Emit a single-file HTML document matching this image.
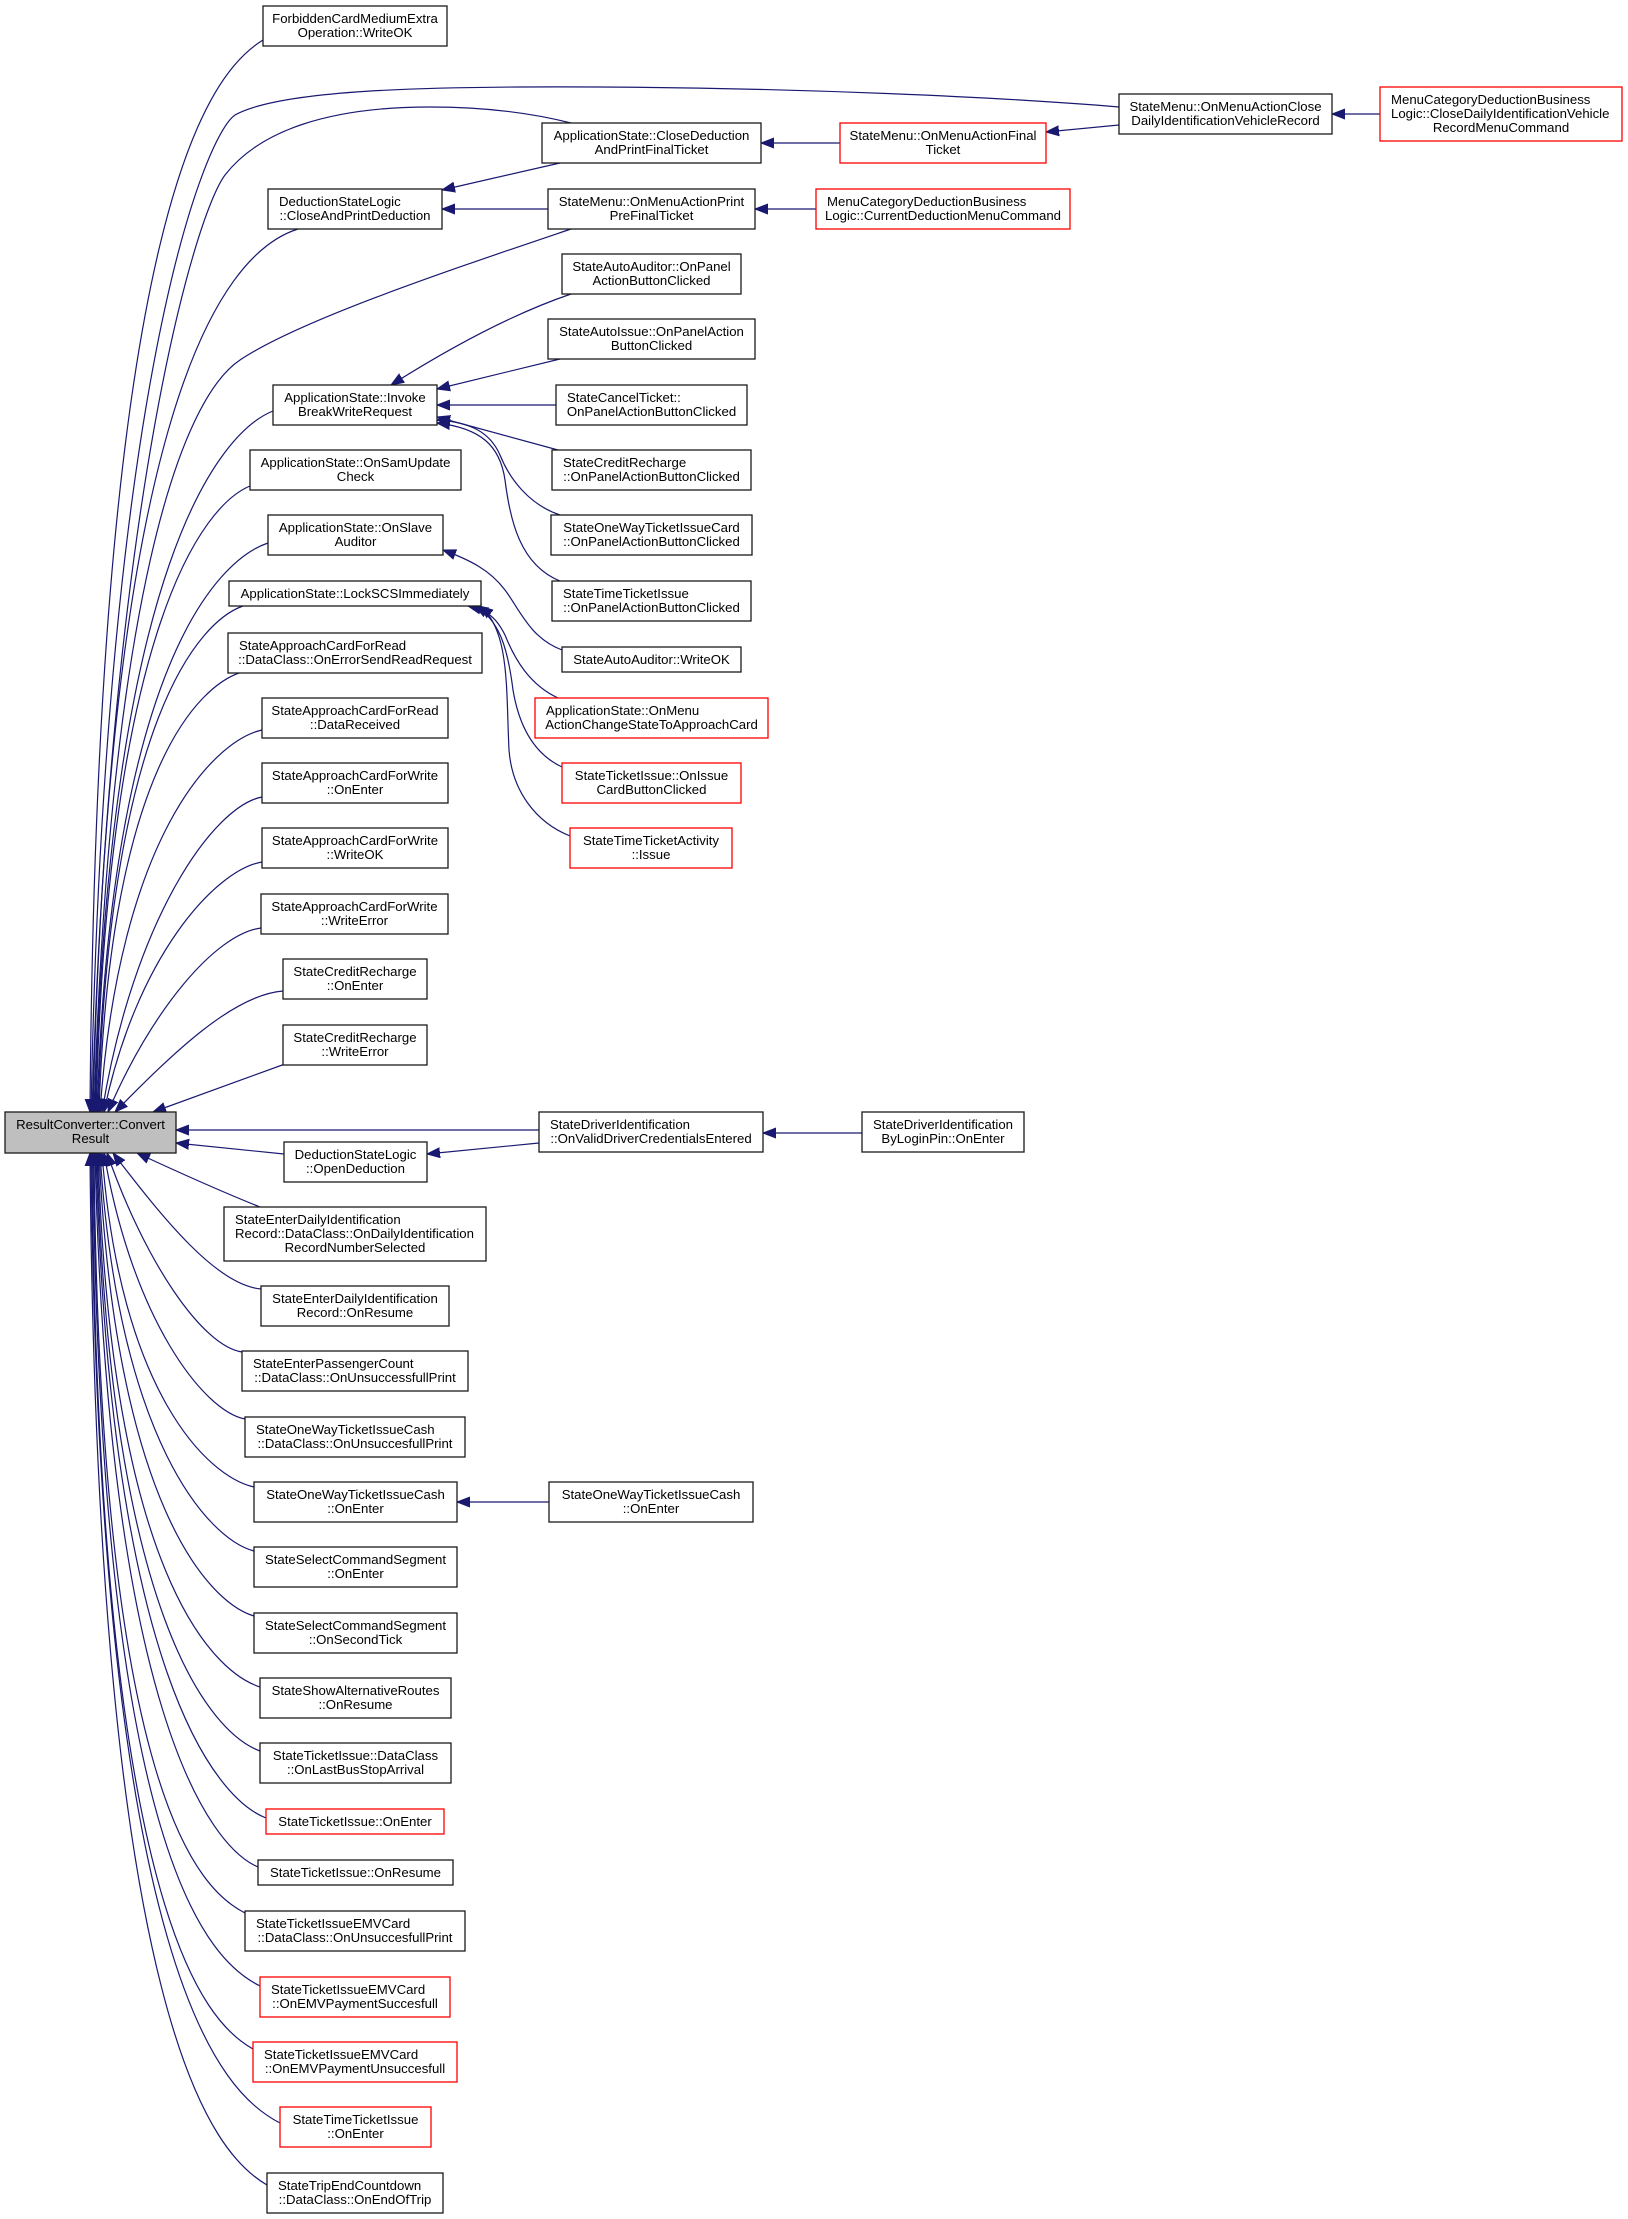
<!DOCTYPE html>
<html><head><meta charset="utf-8"><style>
html,body{margin:0;padding:0;background:#fff;}
svg{display:block;}
text{font-family:"Liberation Sans",Arial,Helvetica,sans-serif;font-size:13.2px;fill:#000;}
.b{fill:#fff;stroke:#1a1a1a;stroke-width:1.3;}
.r{fill:#fff;stroke:#ff0000;stroke-width:1.3;}
.g{fill:#bfbfbf;stroke:#1a1a1a;stroke-width:1.3;}
.e{fill:none;stroke:#191970;stroke-width:1.2;marker-end:url(#a);}
.m{text-anchor:middle;}
</style></head><body>
<svg width="1628" height="2219" viewBox="0 0 1628 2219" xmlns="http://www.w3.org/2000/svg">
<defs><marker id="a" markerUnits="userSpaceOnUse" markerWidth="14" markerHeight="12" viewBox="0 0 14 12" refX="13" refY="6" orient="auto"><path d="M0,1 L13,6 L0,11 z" fill="#191970" stroke="#191970" stroke-width="1"/></marker></defs>

<!-- edges -->
<path class="e" d="M263,40 C211,72 97,201 90,1112"/>
<path class="e" d="M1119,107 C1000,97 800,88 600,87 C420,86 280,90 235,115 C205,135 105,380 91,1112"/>
<path class="e" d="M571,123 C520,110 470,107 430,107 C330,107 260,130 225,175 C195,215 110,500 92,1112"/>
<path class="e" d="M298,229 C216,255 109,423 93,1112"/>
<path class="e" d="M571,229 C450,270 300,320 240,360 C180,400 110,600 94,1112"/>
<path class="e" d="M273,411 C220,432 109,565 95,1112"/>
<path class="e" d="M250,486 C204,505 108,624 96,1112"/>
<path class="e" d="M268,543 C217,560 111,668 97,1112"/>
<path class="e" d="M243,606 C200,621 110,717 98,1112"/>
<path class="e" d="M242,672 C199,685 110,769 99,1112"/>
<path class="e" d="M262,730 C213,741 119,837 100,1112"/>
<path class="e" d="M262,797 C214,806 134,917 102,1112"/>
<path class="e" d="M262,862 C215,870 136,957 104,1112"/>
<path class="e" d="M261,928 C215,934 151,1011 108,1112"/>
<path class="e" d="M283,991 C233,995 174,1052 115,1112"/>
<path class="e" d="M285,1064 L153,1112"/>
<path class="e" d="M539,1130 L176,1130"/>
<path class="e" d="M539,1143 L427,1154"/>
<path class="e" d="M284,1154 L176,1143"/>
<path class="e" d="M862,1133 L763,1133"/>
<path class="e" d="M549,1502 L457,1502"/>
<path class="e" d="M260,1207 C225,1193 180,1173 137,1153"/>
<path class="e" d="M261,1289 C217,1285 165,1221 113,1153"/>
<path class="e" d="M242,1352 C202,1346 145,1262 107,1153"/>
<path class="e" d="M245,1419 C203,1411 132,1318 104,1153"/>
<path class="e" d="M254,1487 C208,1477 120,1393 102,1153"/>
<path class="e" d="M254,1551 C208,1539 118,1440 100,1153"/>
<path class="e" d="M254,1616 C207,1602 115,1500 99,1153"/>
<path class="e" d="M260,1687 C211,1671 111,1570 98,1153"/>
<path class="e" d="M260,1751 C211,1733 110,1619 97,1153"/>
<path class="e" d="M266,1818 C215,1798 110,1672 96,1153"/>
<path class="e" d="M258,1867 C209,1846 108,1710 95,1153"/>
<path class="e" d="M245,1913 C200,1890 100,1799 94,1153"/>
<path class="e" d="M260,1986 C210,1961 100,1861 93,1153"/>
<path class="e" d="M253,2049 C205,2022 98,1915 92,1153"/>
<path class="e" d="M280,2123 C223,2094 99,1978 91,1153"/>
<path class="e" d="M267,2185 C214,2154 97,2030 90,1153"/>
<path class="e" d="M1380,114 L1332,114"/>
<path class="e" d="M1119,125 L1046,132"/>
<path class="e" d="M840,143 L761,143"/>
<path class="e" d="M816,209 L755,209"/>
<path class="e" d="M560,163 L442,190"/>
<path class="e" d="M548,209 L442,209"/>
<path class="e" d="M571,294 C530,308 470,335 391,385"/>
<path class="e" d="M560,359 L437,389"/>
<path class="e" d="M556,405 L437,405"/>
<path class="e" d="M558,450 L437,417"/>
<path class="e" d="M560,515 C530,505 510,480 500,455 C490,432 470,422 437,420"/>
<path class="e" d="M560,581 C520,565 510,520 505,480 C500,445 480,428 437,423"/>
<path class="e" d="M562,650 C530,638 520,610 505,590 C490,570 470,560 443,550"/>
<path class="e" d="M558,698 C530,685 515,660 505,635 C495,615 485,610 468,606"/>
<path class="e" d="M562,767 C530,752 518,720 513,690 C508,650 500,620 475,606"/>
<path class="e" d="M570,836 C535,822 512,790 509,750 C506,690 510,630 480,606"/>

<!-- result converter -->
<rect class="g" x="5" y="1112" width="171" height="41"/>
<text class="m" x="90.5" y="1129">ResultConverter::Convert</text>
<text class="m" x="90.5" y="1143">Result</text>

<!-- column B -->
<rect class="b" x="263" y="6" width="184" height="40"/>
<text class="m" x="355" y="23">ForbiddenCardMediumExtra</text>
<text class="m" x="355" y="37">Operation::WriteOK</text>

<rect class="b" x="268" y="189" width="174" height="40"/>
<text x="279" y="206">DeductionStateLogic</text>
<text class="m" x="355" y="220">::CloseAndPrintDeduction</text>

<rect class="b" x="273" y="385" width="164" height="40"/>
<text class="m" x="355" y="402">ApplicationState::Invoke</text>
<text class="m" x="355" y="416">BreakWriteRequest</text>

<rect class="b" x="250" y="450" width="211" height="40"/>
<text class="m" x="355.5" y="467">ApplicationState::OnSamUpdate</text>
<text class="m" x="355.5" y="481">Check</text>

<rect class="b" x="268" y="515" width="175" height="40"/>
<text class="m" x="355.5" y="532">ApplicationState::OnSlave</text>
<text class="m" x="355.5" y="546">Auditor</text>

<rect class="b" x="229" y="581" width="252" height="25"/>
<text class="m" x="355" y="598">ApplicationState::LockSCSImmediately</text>

<rect class="b" x="228" y="633" width="254" height="40"/>
<text x="239" y="650">StateApproachCardForRead</text>
<text class="m" x="355" y="664">::DataClass::OnErrorSendReadRequest</text>

<rect class="b" x="262" y="698" width="186" height="40"/>
<text class="m" x="355" y="715">StateApproachCardForRead</text>
<text class="m" x="355" y="729">::DataReceived</text>

<rect class="b" x="262" y="763" width="186" height="40"/>
<text class="m" x="355" y="780">StateApproachCardForWrite</text>
<text class="m" x="355" y="794">::OnEnter</text>

<rect class="b" x="262" y="828" width="186" height="40"/>
<text class="m" x="355" y="845">StateApproachCardForWrite</text>
<text class="m" x="355" y="859">::WriteOK</text>

<rect class="b" x="261" y="894" width="187" height="40"/>
<text class="m" x="354.5" y="911">StateApproachCardForWrite</text>
<text class="m" x="354.5" y="925">::WriteError</text>

<rect class="b" x="283" y="959" width="144" height="40"/>
<text class="m" x="355" y="976">StateCreditRecharge</text>
<text class="m" x="355" y="990">::OnEnter</text>

<rect class="b" x="283" y="1025" width="144" height="40"/>
<text class="m" x="355" y="1042">StateCreditRecharge</text>
<text class="m" x="355" y="1056">::WriteError</text>

<rect class="b" x="284" y="1142" width="143" height="40"/>
<text class="m" x="355.5" y="1159">DeductionStateLogic</text>
<text class="m" x="355.5" y="1173">::OpenDeduction</text>

<rect class="b" x="224" y="1207" width="262" height="54"/>
<text x="235" y="1224">StateEnterDailyIdentification</text>
<text x="235" y="1238">Record::DataClass::OnDailyIdentification</text>
<text class="m" x="355" y="1252">RecordNumberSelected</text>

<rect class="b" x="261" y="1286" width="188" height="40"/>
<text class="m" x="355" y="1303">StateEnterDailyIdentification</text>
<text class="m" x="355" y="1317">Record::OnResume</text>

<rect class="b" x="242" y="1351" width="226" height="40"/>
<text x="253" y="1368">StateEnterPassengerCount</text>
<text class="m" x="355" y="1382">::DataClass::OnUnsuccessfullPrint</text>

<rect class="b" x="245" y="1417" width="220" height="40"/>
<text x="256" y="1434">StateOneWayTicketIssueCash</text>
<text class="m" x="355" y="1448">::DataClass::OnUnsuccesfullPrint</text>

<rect class="b" x="254" y="1482" width="203" height="40"/>
<text class="m" x="355.5" y="1499">StateOneWayTicketIssueCash</text>
<text class="m" x="355.5" y="1513">::OnEnter</text>

<rect class="b" x="254" y="1547" width="203" height="40"/>
<text class="m" x="355.5" y="1564">StateSelectCommandSegment</text>
<text class="m" x="355.5" y="1578">::OnEnter</text>

<rect class="b" x="254" y="1613" width="203" height="40"/>
<text class="m" x="355.5" y="1630">StateSelectCommandSegment</text>
<text class="m" x="355.5" y="1644">::OnSecondTick</text>

<rect class="b" x="260" y="1678" width="191" height="40"/>
<text class="m" x="355.5" y="1695">StateShowAlternativeRoutes</text>
<text class="m" x="355.5" y="1709">::OnResume</text>

<rect class="b" x="260" y="1743" width="191" height="40"/>
<text class="m" x="355.5" y="1760">StateTicketIssue::DataClass</text>
<text class="m" x="355.5" y="1774">::OnLastBusStopArrival</text>

<rect class="r" x="266" y="1809" width="178" height="25"/>
<text class="m" x="355" y="1826">StateTicketIssue::OnEnter</text>

<rect class="b" x="258" y="1860" width="195" height="25"/>
<text class="m" x="355.5" y="1877">StateTicketIssue::OnResume</text>

<rect class="b" x="245" y="1911" width="220" height="40"/>
<text x="256" y="1928">StateTicketIssueEMVCard</text>
<text class="m" x="355" y="1942">::DataClass::OnUnsuccesfullPrint</text>

<rect class="r" x="260" y="1977" width="190" height="40"/>
<text x="271" y="1994">StateTicketIssueEMVCard</text>
<text class="m" x="355" y="2008">::OnEMVPaymentSuccesfull</text>

<rect class="r" x="253" y="2042" width="204" height="40"/>
<text x="264" y="2059">StateTicketIssueEMVCard</text>
<text class="m" x="355" y="2073">::OnEMVPaymentUnsuccesfull</text>

<rect class="r" x="280" y="2107" width="151" height="40"/>
<text class="m" x="355.5" y="2124">StateTimeTicketIssue</text>
<text class="m" x="355.5" y="2138">::OnEnter</text>

<rect class="b" x="267" y="2173" width="176" height="40"/>
<text x="278" y="2190">StateTripEndCountdown</text>
<text class="m" x="355" y="2204">::DataClass::OnEndOfTrip</text>

<!-- column C -->
<rect class="b" x="542" y="123" width="219" height="40"/>
<text class="m" x="651.5" y="140">ApplicationState::CloseDeduction</text>
<text class="m" x="651.5" y="154">AndPrintFinalTicket</text>

<rect class="b" x="548" y="189" width="207" height="40"/>
<text class="m" x="651.5" y="206">StateMenu::OnMenuActionPrint</text>
<text class="m" x="651.5" y="220">PreFinalTicket</text>

<rect class="b" x="562" y="254" width="179" height="40"/>
<text class="m" x="651.5" y="271">StateAutoAuditor::OnPanel</text>
<text class="m" x="651.5" y="285">ActionButtonClicked</text>

<rect class="b" x="548" y="319" width="207" height="40"/>
<text class="m" x="651.5" y="336">StateAutoIssue::OnPanelAction</text>
<text class="m" x="651.5" y="350">ButtonClicked</text>

<rect class="b" x="556" y="385" width="191" height="40"/>
<text x="567" y="402">StateCancelTicket::</text>
<text class="m" x="651.5" y="416">OnPanelActionButtonClicked</text>

<rect class="b" x="552" y="450" width="199" height="40"/>
<text x="563" y="467">StateCreditRecharge</text>
<text class="m" x="651.5" y="481">::OnPanelActionButtonClicked</text>

<rect class="b" x="551" y="515" width="201" height="40"/>
<text class="m" x="651.5" y="532">StateOneWayTicketIssueCard</text>
<text class="m" x="651.5" y="546">::OnPanelActionButtonClicked</text>

<rect class="b" x="552" y="581" width="199" height="40"/>
<text x="563" y="598">StateTimeTicketIssue</text>
<text class="m" x="651.5" y="612">::OnPanelActionButtonClicked</text>

<rect class="b" x="562" y="647" width="179" height="25"/>
<text class="m" x="651.5" y="664">StateAutoAuditor::WriteOK</text>

<rect class="r" x="535" y="698" width="233" height="40"/>
<text x="546" y="715">ApplicationState::OnMenu</text>
<text class="m" x="651.5" y="729">ActionChangeStateToApproachCard</text>

<rect class="r" x="562" y="763" width="179" height="40"/>
<text class="m" x="651.5" y="780">StateTicketIssue::OnIssue</text>
<text class="m" x="651.5" y="794">CardButtonClicked</text>

<rect class="r" x="570" y="828" width="162" height="40"/>
<text class="m" x="651" y="845">StateTimeTicketActivity</text>
<text class="m" x="651" y="859">::Issue</text>

<rect class="b" x="539" y="1112" width="224" height="40"/>
<text x="550" y="1129">StateDriverIdentification</text>
<text class="m" x="651" y="1143">::OnValidDriverCredentialsEntered</text>

<rect class="b" x="549" y="1482" width="204" height="40"/>
<text class="m" x="651" y="1499">StateOneWayTicketIssueCash</text>
<text class="m" x="651" y="1513">::OnEnter</text>

<!-- column D -->
<rect class="r" x="840" y="123" width="206" height="40"/>
<text class="m" x="943" y="140">StateMenu::OnMenuActionFinal</text>
<text class="m" x="943" y="154">Ticket</text>

<rect class="r" x="816" y="189" width="254" height="40"/>
<text x="827" y="206">MenuCategoryDeductionBusiness</text>
<text class="m" x="943" y="220">Logic::CurrentDeductionMenuCommand</text>

<rect class="b" x="862" y="1112" width="162" height="40"/>
<text class="m" x="943" y="1129">StateDriverIdentification</text>
<text class="m" x="943" y="1143">ByLoginPin::OnEnter</text>

<!-- column E -->
<rect class="b" x="1119" y="94" width="213" height="40"/>
<text class="m" x="1225.5" y="111">StateMenu::OnMenuActionClose</text>
<text class="m" x="1225.5" y="125">DailyIdentificationVehicleRecord</text>

<!-- column F -->
<rect class="r" x="1380" y="87" width="242" height="54"/>
<text x="1391" y="104">MenuCategoryDeductionBusiness</text>
<text x="1391" y="118">Logic::CloseDailyIdentificationVehicle</text>
<text class="m" x="1501" y="132">RecordMenuCommand</text>
</svg>
</body></html>
